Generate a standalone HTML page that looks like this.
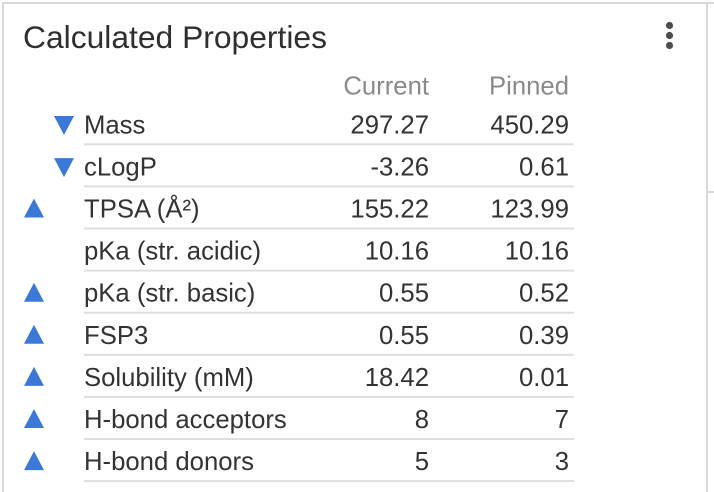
<!DOCTYPE html>
<html><head><meta charset="utf-8"><style>
html,body{margin:0;padding:0;background:#fff;}
svg{display:block;}
text{font-family:"Liberation Sans",Arial,sans-serif;}
</style></head><body>
<svg width="714" height="492" viewBox="0 0 714 492" xmlns="http://www.w3.org/2000/svg">
<rect x="0" y="0" width="714" height="492" fill="#fff"/>
<!-- card borders -->
<rect x="2" y="2" width="712" height="2" fill="#d6d9d9"/>
<rect x="2" y="2" width="2" height="490" fill="#d6d9d9"/>
<rect x="706" y="2" width="2" height="490" fill="#d6d9d9"/>
<rect x="708" y="191" width="6" height="2" fill="#d6d9d9"/>
<!-- title -->
<text x="23" y="48" font-size="31.8" fill="#2f2f2f">Calculated Properties</text>
<!-- menu dots -->
<circle cx="669.5" cy="25.5" r="3.6" fill="#4d4d4d"/>
<circle cx="669.5" cy="35.5" r="3.6" fill="#4d4d4d"/>
<circle cx="669.5" cy="45.5" r="3.6" fill="#4d4d4d"/>
<!-- header -->
<g font-size="25.7" fill="#8a8a8a" text-anchor="end">
<text x="429" y="94.3">Current</text>
<text x="569" y="94.3">Pinned</text>
</g>
<!-- separator lines -->
<g fill="#dedede">
<rect x="84" y="143.3" width="490" height="2"/>
<rect x="84" y="185.4" width="490" height="2"/>
<rect x="84" y="227.5" width="490" height="2"/>
<rect x="84" y="269.6" width="490" height="2"/>
<rect x="84" y="311.7" width="490" height="2"/>
<rect x="84" y="353.8" width="490" height="2"/>
<rect x="84" y="395.9" width="490" height="2"/>
<rect x="84" y="438.0" width="490" height="2"/>
<rect x="84" y="480.1" width="490" height="2"/>
</g>
<!-- triangles -->
<g fill="#3c78d8">
<polygon points="54,116 74,116 64,135"/>
<polygon points="54,158.1 74,158.1 64,177.1"/>
<polygon points="24,217.5 44,217.5 34,198.5"/>
<polygon points="24,301.7 44,301.7 34,282.7"/>
<polygon points="24,343.8 44,343.8 34,324.8"/>
<polygon points="24,385.9 44,385.9 34,366.9"/>
<polygon points="24,428.0 44,428.0 34,409.0"/>
<polygon points="24,470.1 44,470.1 34,451.1"/>
</g>
<!-- labels -->
<g font-size="25.7" fill="#333">
<text x="84" y="133.3">Mass</text>
<text x="84" y="175.4">cLogP</text>
<text x="84" y="217.5">TPSA (Å²)</text>
<text x="84" y="259.6">pKa (str. acidic)</text>
<text x="84" y="301.7">pKa (str. basic)</text>
<text x="84" y="343.8">FSP3</text>
<text x="84" y="385.9">Solubility (mM)</text>
<text x="84" y="428.0">H-bond acceptors</text>
<text x="84" y="470.1">H-bond donors</text>
</g>
<g font-size="25.7" fill="#333" text-anchor="end">
<text x="429" y="133.3">297.27</text><text x="569" y="133.3">450.29</text>
<text x="429" y="175.4">-3.26</text><text x="569" y="175.4">0.61</text>
<text x="429" y="217.5">155.22</text><text x="569" y="217.5">123.99</text>
<text x="429" y="259.6">10.16</text><text x="569" y="259.6">10.16</text>
<text x="429" y="301.7">0.55</text><text x="569" y="301.7">0.52</text>
<text x="429" y="343.8">0.55</text><text x="569" y="343.8">0.39</text>
<text x="429" y="385.9">18.42</text><text x="569" y="385.9">0.01</text>
<text x="429" y="428.0">8</text><text x="569" y="428.0">7</text>
<text x="429" y="470.1">5</text><text x="569" y="470.1">3</text>
</g>
</svg>
</body></html>
